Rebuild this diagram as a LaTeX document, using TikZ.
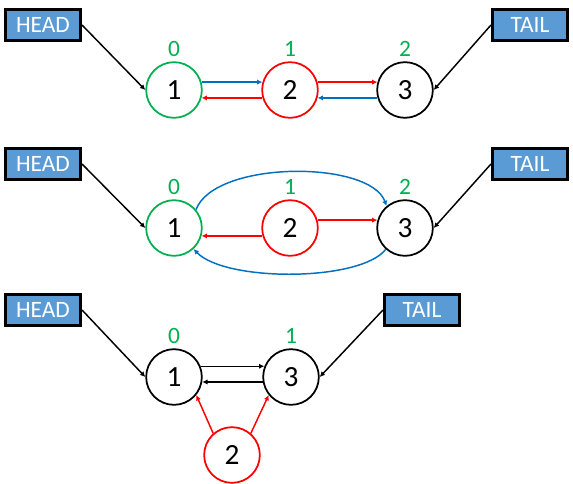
\documentclass[tikz,border=0pt]{standalone}
\usepackage{fontspec}
\setmainfont{Carlito}
\usetikzlibrary{arrows.meta,positioning}
\definecolor{ngreen}{HTML}{00B050}
\definecolor{nred}{HTML}{FF0000}
\definecolor{nblue}{HTML}{0070C0}
\definecolor{boxblue}{HTML}{5B9BD5}
\tikzset{
  elem/.style={circle,draw,line width=1.5pt,minimum size=1.67cm,inner sep=0pt,font=\fontsize{25}{28}\selectfont},
  ptr/.style={draw=black,fill=boxblue,line width=2.6pt,minimum width=2.25cm,minimum height=0.93cm,inner sep=0pt,text=white,font=\fontsize{20}{22}\selectfont},
  idx/.style={text=ngreen,font=\fontsize{20}{22}\selectfont,inner sep=1pt},
  link/.style={-{Latex[length=4.5pt,width=4.5pt]},line width=1.25pt},
}
\begin{document}
\begin{tikzpicture}[x=0.03cm,y=-0.03cm]
\useasboundingbox (0,0) rectangle (573,483);
% first list
\node[ptr] (h1) at (43,25) {HEAD};
\node[ptr] (t1) at (530,25) {TAIL};
\node[elem,draw=ngreen] (a1) at (174,90) {1};
\node[elem,draw=nred] (a2) at (290,90) {2};
\node[elem] (a3) at (405,90) {3};
\node[idx, above=3pt of a1] (i1) {0};
\node[idx, above=3pt of a2] (i2) {1};
\node[idx, above=3pt of a3] (i3) {2};
\draw[link] (h1.east) -- (a1.west);
\draw[link] (t1.west) -- (a3.east);
\draw[link,nblue] (a1.16) -- (a2.164);
\draw[link,nred] (a2.196) -- (a1.344);
\draw[link,nred] (a2.16) -- (a3.164);
\draw[link,nblue] (a3.196) -- (a2.344);
% second list
\node[ptr] (h2) at (43,164) {HEAD};
\node[ptr] (t2) at (530,164) {TAIL};
\node[elem,draw=ngreen] (b1) at (174,228) {1};
\node[elem,draw=nred] (b2) at (290,228) {2};
\node[elem] (b3) at (405,228) {3};
\node[idx, above=3pt of b1] (j1) {0};
\node[idx, above=3pt of b2] (j2) {1};
\node[idx, above=3pt of b3] (j3) {2};
\draw[link] (h2.east) -- (b1.west);
\draw[link] (t2.west) -- (b3.east);
\draw[link,nred] (b2.196) -- (b1.344);
\draw[link,nred] (b2.16) -- (b3.164);
\draw[link,nblue] (b1.40) .. controls (215,160) and (370,160) .. (b3.130);
\draw[link,nblue] (b3.228) .. controls (360,282) and (225,282) .. (b1.313);
% third list
\node[ptr] (h3) at (43,310) {HEAD};
\node[ptr] (t3) at (422,310) {TAIL};
\node[elem] (c1) at (174,377) {1};
\node[elem] (c3) at (291,377) {3};
\node[elem,draw=nred] (c2) at (232,455) {2};
\node[idx, above=3pt of c1] (k1) {0};
\node[idx, above=3pt of c3] (k2) {1};
\draw[link] (h3.east) -- (c1.west);
\draw[link] (t3.west) -- (c3.east);
\draw[link] (c1.22) -- (c3.158);
\draw[link] (c3.190) -- (c1.350);
\draw[link,nred] (c2.131) -- (c1.321);
\draw[link,nred] (c2.49) -- (c3.219);
\end{tikzpicture}
\end{document}
